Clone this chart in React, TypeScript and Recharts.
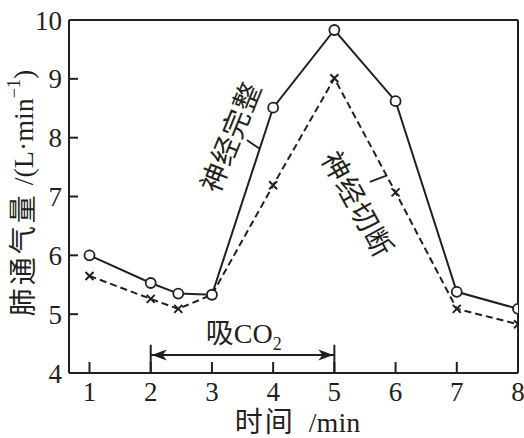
import React from "react";
import { LineChart, Line, XAxis, YAxis, ReferenceLine, ReferenceDot } from "recharts";

const times = [1, 2, 2.45, 3, 4, 5, 6, 7, 8];
const intact = [6.0, 5.53, 5.35, 5.33, 8.51, 9.83, 8.62, 5.38, 5.09];
const cut = [5.65, 5.26, 5.09, 5.33, 7.19, 9.01, 7.07, 5.09, 4.83];
const xTicks = [1, 2, 3, 4, 5, 6, 7, 8];
const yTicks = [4, 5, 6, 7, 8, 9, 10];

const data = times.map((t, i) => ({ t, intact: intact[i], cut: cut[i] }));

const C = "#231f20";
const FONT = '"Liberation Serif", "Noto Sans CJK SC", serif';

const CrossDot = (props: any) => {
  const { cx, cy, index } = props;
  if (cx == null || cy == null) return <g key={index} />;
  const s = 4;
  return (
    <path
      key={index}
      d={`M${cx - s},${cy - s}L${cx + s},${cy + s}M${cx - s},${cy + s}L${cx + s},${cy - s}`}
      stroke={C}
      strokeWidth={2}
      fill="none"
    />
  );
};

const YLabel = (props: any) => {
  const vb = props.viewBox || { x: 0, y: 20, width: 69, height: 353 };
  const cx = vb.x + 23;
  const cy = 193;
  return (
    <text
      x={cx}
      y={cy}
      transform={`rotate(-90, ${cx}, ${cy})`}
      textAnchor="middle"
      dominantBaseline="central"
      fontFamily={FONT}
      fontSize={28}
      fill={C}
    >
      <tspan letterSpacing={3}>肺通气量</tspan>
      <tspan> /(L·min</tspan>
      <tspan dy={-9} fontSize={18}>−1</tspan>
      <tspan dy={9}>)</tspan>
    </text>
  );
};

const XLabel = (props: any) => {
  const vb = props.viewBox || { x: 69, y: 373, width: 449, height: 65 };
  const cx = vb.x + vb.width / 2 + 4;
  return (
    <text x={cx} y={432} textAnchor="middle" fontFamily={FONT} fontSize={28} fill={C}>
      <tspan letterSpacing={2}>时间</tspan>
      <tspan>{"\u00a0\u00a0/min"}</tspan>
    </text>
  );
};

const rotatedText = (label: string, angle: number) => (props: any) => {
  const { cx, cy } = props;
  return (
    <text
      x={cx}
      y={cy}
      transform={`rotate(${angle}, ${cx}, ${cy})`}
      textAnchor="middle"
      dominantBaseline="central"
      fontFamily={FONT}
      fontSize={28}
      letterSpacing={1}
      fill={C}
    >
      {label}
    </text>
  );
};

const co2Text = (props: any) => {
  const { cx, cy } = props;
  return (
    <text x={cx} y={cy} textAnchor="middle" fontFamily={FONT} fontSize={28} fill={C}>
      <tspan>吸CO</tspan>
      <tspan dy={7} fontSize={18}>2</tspan>
    </text>
  );
};

const arrowHead = (dir: number) => (props: any) => {
  const { cx, cy } = props;
  const L = 15;
  const W = 5.5;
  const tip = cx + dir * 1;
  return (
    <path
      d={`M${tip},${cy}L${tip + dir * L},${cy - W}L${tip + dir * (L - 4)},${cy}L${tip + dir * L},${cy + W}Z`}
      fill={C}
      stroke="none"
    />
  );
};

export default function App() {
  return (
    <div style={{ position: "absolute", left: 0, top: 0, background: "#fff" }}>
      <LineChart
        width={524}
        height={438}
        data={data}
        margin={{ top: 20, right: 6, bottom: 0, left: 0 }}
        style={{ fontFamily: FONT }}
      >
        <XAxis
          dataKey="t"
          type="number"
          domain={[0.665, 8]}
          ticks={xTicks}
          allowDataOverflow
          height={65}
          tickSize={-11}
          tickMargin={20}
          axisLine={{ stroke: C, strokeWidth: 2 }}
          tickLine={{ stroke: C, strokeWidth: 2 }}
          tick={{ fill: C, fontSize: 27, fontFamily: FONT }}
          interval={0}
          label={<XLabel />}
        />
        <YAxis
          type="number"
          domain={[4, 10]}
          ticks={yTicks}
          allowDataOverflow
          width={69}
          tickSize={-9}
          tickMargin={16}
          axisLine={{ stroke: C, strokeWidth: 2 }}
          tickLine={{ stroke: C, strokeWidth: 2 }}
          tick={{ fill: C, fontSize: 27, fontFamily: FONT }}
          interval={0}
          label={<YLabel />}
        />
        <ReferenceLine y={10} stroke={C} strokeWidth={2} />
        <ReferenceLine x={8} stroke={C} strokeWidth={2} />

        <Line
          dataKey="cut"
          stroke={C}
          strokeWidth={2}
          strokeDasharray="7 4"
          dot={CrossDot}
          activeDot={false}
          isAnimationActive={false}
        />
        <Line
          dataKey="intact"
          stroke={C}
          strokeWidth={2}
          dot={{ r: 5, fill: "#fff", stroke: C, strokeWidth: 1.8 }}
          activeDot={false}
          isAnimationActive={false}
        />

        {/* leader lines */}
        <ReferenceLine segment={[{ x: 3.57, y: 7.96 }, { x: 3.78, y: 7.81 }]} stroke={C} strokeWidth={1.8} />
        <ReferenceLine segment={[{ x: 5.58, y: 7.25 }, { x: 5.86, y: 7.36 }]} stroke={C} strokeWidth={1.8} />

        {/* CO2 interval */}
        <ReferenceLine segment={[{ x: 2, y: 4 }, { x: 2, y: 4.48 }]} stroke={C} strokeWidth={2} />
        <ReferenceLine segment={[{ x: 5, y: 4 }, { x: 5, y: 4.48 }]} stroke={C} strokeWidth={2} />
        <ReferenceLine segment={[{ x: 2, y: 4.306 }, { x: 5, y: 4.306 }]} stroke={C} strokeWidth={2} />
        <ReferenceDot x={2} y={4.306} shape={arrowHead(1)} />
        <ReferenceDot x={5} y={4.306} shape={arrowHead(-1)} />
        <ReferenceDot x={3.52} y={4.51} shape={co2Text} />

        <ReferenceDot x={3.32} y={8.01} shape={rotatedText("神经完整", -68)} />
        <ReferenceDot x={5.37} y={6.86} shape={rotatedText("神经切断", 61)} />
      </LineChart>
    </div>
  );
}
